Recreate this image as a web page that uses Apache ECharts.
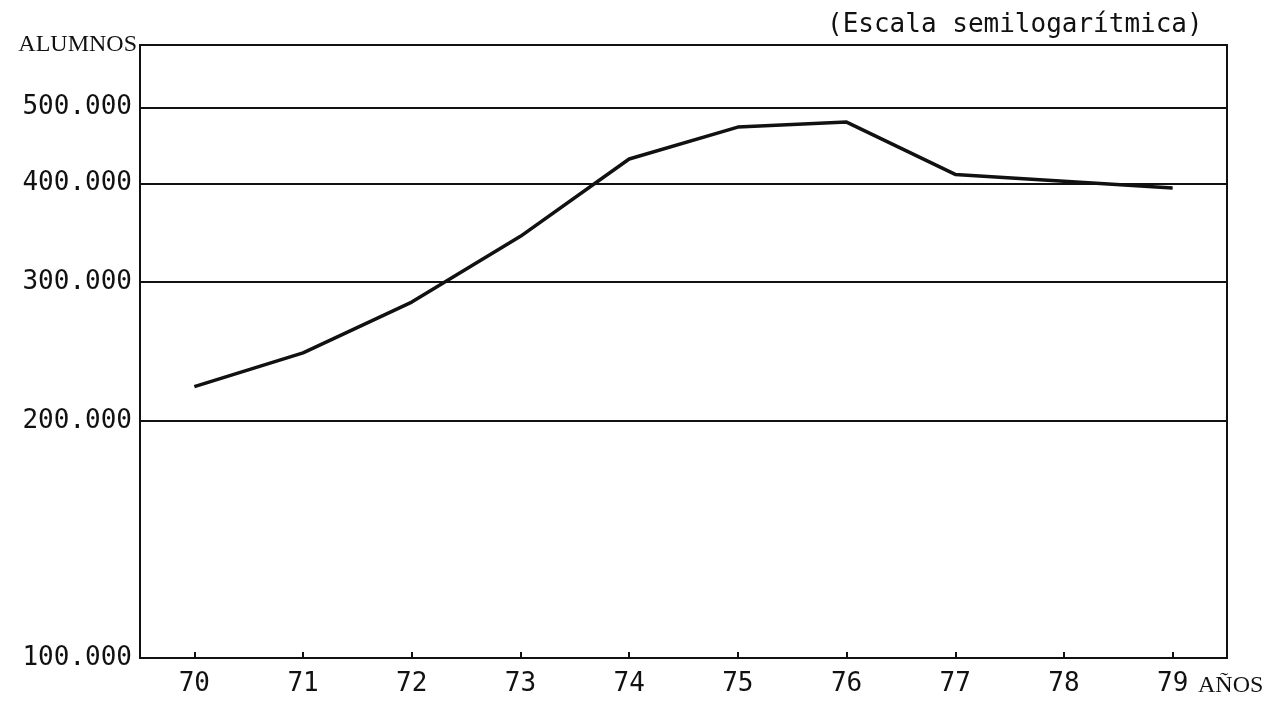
<!DOCTYPE html>
<html>
<head>
<meta charset="utf-8">
<script src="https://cdn.jsdelivr.net/npm/echarts@6/dist/echarts.min.js"></script>
<style>
  html, body { margin: 0; padding: 0; background: #fff; }
  #chart { width: 1270px; height: 715px; }
</style>
</head>
<body>
<div id="chart"></div>
<script>
// años y alumnos (escala semilogarítmica)
const years = ['70', '71', '72', '73', '74', '75', '76', '77', '78', '79'];
const alumnos = [221000, 244000, 283000, 343000, 430000, 472000, 479000, 411000, 403000, 395000];
const yTicks = [100000, 200000, 300000, 400000, 500000];

const ink = '#111';
const mono = '"DejaVu Sans Mono", "Liberation Mono", monospace';
const serif = '"Liberation Serif", "DejaVu Serif", serif';

const chart = echarts.init(document.getElementById('chart'));
const option = {
  animation: false,
  backgroundColor: '#fff',
  title: {
    text: '(Escala semilogarítmica)',
    left: 822,
    top: 7,
    textStyle: { fontFamily: mono, fontSize: 26, fontWeight: 'normal', color: ink }
  },
  grid: {
    left: 140,
    right: 43,
    top: 45,
    bottom: 57,
    show: true,
    borderColor: ink,
    borderWidth: 2,
    backgroundColor: 'transparent'
  },
  xAxis: {
    type: 'category',
    data: years,
    boundaryGap: true,
    name: 'AÑOS',
    nameLocation: 'end',
    nameGap: -29,
    nameTextStyle: {
      fontFamily: serif,
      fontSize: 24,
      color: ink,
      align: 'left',
      verticalAlign: 'top',
      padding: [16, 0, 0, 0]
    },
    axisLine: { show: true, lineStyle: { color: ink, width: 2 } },
    axisTick: { show: true, alignWithLabel: true, inside: true, length: 6, lineStyle: { color: ink, width: 2 } },
    axisLabel: { fontFamily: mono, fontSize: 26, color: ink, margin: 13 },
    splitLine: { show: false }
  },
  yAxis: {
    type: 'log',
    logBase: 10,
    min: 100000,
    max: 600000,
    name: 'ALUMNOS',
    nameLocation: 'end',
    nameGap: 0,
    nameTextStyle: {
      fontFamily: serif,
      fontSize: 24,
      color: ink,
      align: 'right',
      verticalAlign: 'middle',
      padding: [0, 3, 0, 0]
    },
    axisLine: { show: false },
    axisTick: { show: false, customValues: yTicks },
    axisLabel: {
      customValues: yTicks,
      fontFamily: mono,
      fontSize: 26,
      color: ink,
      margin: 8,
      formatter: v => (Math.round(v / 1000)) + '.000'
    },
    splitLine: { show: true, lineStyle: { color: ink, width: 2 } }
  },
  series: [
    {
      name: 'Alumnos',
      type: 'line',
      data: alumnos,
      symbol: 'none',
      lineStyle: { color: ink, width: 3.5 }
    }
  ]
};
chart.setOption(option);
</script>
</body>
</html>
